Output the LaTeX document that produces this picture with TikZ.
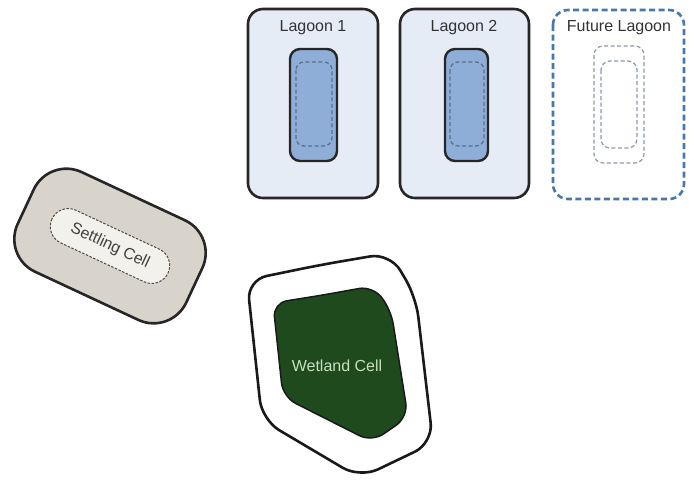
\documentclass[tikz,border=0pt]{standalone}
\usepackage{fontspec}
\setmainfont{Liberation Sans}
\begin{document}
\begin{tikzpicture}[x=1pt,y=-1pt,
  lagoon/.style={draw=black!85,line width=2.6pt,fill=lagoonbg,rounded corners=15pt},
  pond/.style={draw=black!85,line width=2.4pt,fill=pondblue,rounded corners=10pt},
  pondline/.style={draw=dashblue,line width=1.3pt,dash pattern=on 4pt off 2.5pt,rounded corners=8pt},
  futureline/.style={draw=futureblue,line width=2.6pt,dash pattern=on 6pt off 3.5pt,rounded corners=15pt},
  ghost/.style={draw=ghostgray,line width=1.2pt,dash pattern=on 4pt off 2.5pt,rounded corners=9pt},
  label/.style={font=\fontsize{16}{18}\selectfont,text=black!80,inner sep=0pt}
]
\definecolor{lagoonbg}{HTML}{E6ECF5}
\definecolor{pondblue}{HTML}{8EAED8}
\definecolor{dashblue}{HTML}{5C6F8C}
\definecolor{futureblue}{HTML}{4A76AE}
\definecolor{ghostgray}{HTML}{8E9AAB}
\definecolor{settlebg}{HTML}{D8D3CB}
\definecolor{settlein}{HTML}{F3F1EC}
\definecolor{wetgreen}{HTML}{1E4A1E}
\definecolor{wettext}{HTML}{C8E0C0}
\useasboundingbox (0,0) rectangle (689,480);

% Lagoon 1
\draw[lagoon] (248,9) rectangle (378,198);
\node[label] (l1) at (313,28) {Lagoon 1};
\draw[pond] (290,49) rectangle (337,161);
\draw[pondline] (296,62) rectangle (332,146);

% Lagoon 2
\draw[lagoon] (400,9) rectangle (529,198);
\node[label] (l2) at (464,28) {Lagoon 2};
\draw[pond] (445,49) rectangle (488,161);
\draw[pondline] (450,62) rectangle (484,146);

% Future lagoon
\draw[futureline] (553,10) rectangle (684,199);
\node[label] (fl) at (619,28) {Future Lagoon};
\draw[ghost] (594,46) rectangle (644,163);
\draw[ghost] (601,61) rectangle (637,148);

% Settling cell
\begin{scope}[shift={(110,246)},rotate=-25]
  \draw[draw=black!85,line width=2.6pt,fill=settlebg,rounded corners=36pt]
    (-93,-55) rectangle (93,55);
  \draw[draw=black!70,line width=1pt,dash pattern=on 2.5pt off 1.5pt,fill=settlein,rounded corners=18pt]
    (-64,-18) rectangle (64,18);
  \node[label,rotate=-25,text=black!75] (sc) at (0,0) {Settling Cell};
\end{scope}

% Wetland cell
\draw[draw=black!90,line width=2.6pt,fill=white,rounded corners=20pt]
  (320,265) -- (390,253) -- (416,297) -- (433,443) -- (360,478) -- (262,420) -- (247,280) -- cycle;
\draw[draw=black!90,line width=1.5pt,fill=wetgreen,rounded corners=14pt]
  (323,295) -- (373,286) -- (391,310) -- (408,417) -- (372,442) -- (283,397) -- (273,303) -- cycle;
\node[label,text=wettext] (wc) at (337,366) {Wetland Cell};
\end{tikzpicture}
\end{document}
